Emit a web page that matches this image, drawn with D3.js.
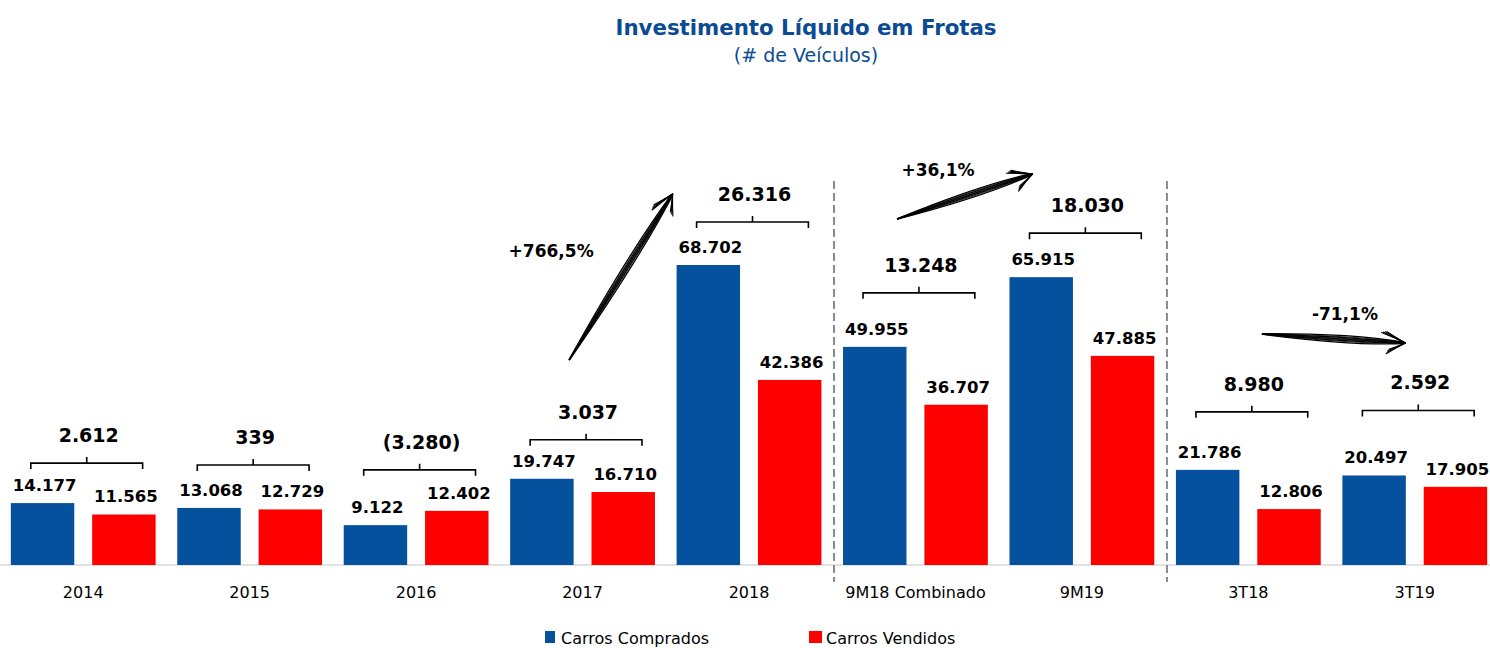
<!DOCTYPE html>
<html>
<head>
<meta charset="utf-8">
<script src="https://cdn.jsdelivr.net/npm/d3@7"></script>
<style>
  html, body { margin: 0; padding: 0; background: #fff; }
  svg { display: block; }
</style>
</head>
<body>
<svg id="chart"></svg>
<script>
// values
const categories = ["2014", "2015", "2016", "2017", "2018", "9M18 Combinado", "9M19", "3T18", "3T19"];
const comprados = [14177, 13068, 9122, 19747, 68702, 49955, 65915, 21786, 20497];
const vendidos = [11565, 12729, 12402, 16710, 42386, 36707, 47885, 12806, 17905];
const seriesNames = ["Carros Comprados", "Carros Vendidos"];
const comparisons = [["2017", "2018"], ["9M18 Combinado", "9M19"], ["3T18", "3T19"]];
const separators = ["9M18 Combinado", "3T18"];

const width = 1490, height = 648;
const blue = "#05519d", red = "#ff0000", titleBlue = "#0b4b93";
const baseline = 565;

// layout tweaks (not data): gap between tallest bar and bracket
const bracketLift = [40, 43, 41, 39, 43, 54, 44, 58, 65];
// arrow placement, offsets relative to the bands
const arrowLayout = [
    { sx: 59, sy: 360, ex: -4, ey: 194, lx: 41, ly: 257 },
    { sx: 54, sy: 219, ex: 23, ey: 174, lx: 95, ly: 176 },
    { sx: 86, sy: 334, ex: 63, ey: 343, lx: 169, ly: 320 }
];

const fmt = v => {
    const s = d3.format(",")(Math.abs(v)).replace(/,/g, ".");
    return v < 0 ? `(${s})` : s;
};
const fmtPct = v => (v > 0 ? "+" : "-") + d3.format(".1f")(Math.abs(v) * 100).replace(".", ",") + "%";

const svg = d3.select("#chart")
    .attr("width", width)
    .attr("height", height)
    .attr("viewBox", [0, 0, width, height]);

const x0 = d3.scaleBand()
    .domain(categories)
    .range([0, 1498])
    .paddingInner(0.13)
    .paddingOuter(0.065);

const x1 = d3.scaleBand()
    .domain(seriesNames)
    .range([0, x0.bandwidth()])
    .paddingInner(0.22);

const y = d3.scaleLinear()
    .domain([0, d3.max(comprados)])
    .range([baseline, 265]);

const rows = categories.map((c, i) => ({
    cat: c,
    i: i,
    vals: [comprados[i], vendidos[i]],
    net: comprados[i] - vendidos[i]
}));

// title
svg.append("text")
    .attr("x", 806).attr("y", 35)
    .attr("text-anchor", "middle")
    .attr("font-family", "DejaVu Sans")
    .attr("font-weight", "bold")
    .attr("font-size", 21.3)
    .attr("fill", titleBlue)
    .text("Investimento Líquido em Frotas");

svg.append("text")
    .attr("x", 806).attr("y", 62)
    .attr("text-anchor", "middle")
    .attr("font-family", "DejaVu Sans")
    .attr("font-size", 19)
    .attr("fill", titleBlue)
    .text("(# de Veículos)");

// axis line
svg.append("line")
    .attr("x1", 0).attr("x2", width)
    .attr("y1", baseline).attr("y2", baseline)
    .attr("stroke", "#d9d9d9")
    .attr("stroke-width", 1.5);

// dashed separators
svg.append("g")
    .selectAll("line")
    .data(separators)
    .join("line")
    .attr("x1", d => x0(d) - 9)
    .attr("x2", d => x0(d) - 9)
    .attr("y1", 181)
    .attr("y2", 582)
    .attr("stroke", "#8a8a8a")
    .attr("stroke-width", 2)
    .attr("stroke-dasharray", "8,4");

// bars
const group = svg.append("g")
    .selectAll("g")
    .data(rows)
    .join("g")
    .attr("transform", d => `translate(${x0(d.cat)},0)`);

group.selectAll("rect")
    .data(d => d.vals.map((v, k) => ({ key: seriesNames[k], v: v })))
    .join("rect")
    .attr("x", d => x1(d.key))
    .attr("y", d => y(d.v))
    .attr("width", x1.bandwidth())
    .attr("height", d => baseline - y(d.v))
    .attr("fill", (d, k) => k === 0 ? blue : red);

group.selectAll("text.val")
    .data(d => d.vals.map((v, k) => ({ key: seriesNames[k], v: v })))
    .join("text")
    .attr("class", "val")
    .attr("x", d => x1(d.key) + x1.bandwidth() / 2 + 2)
    .attr("y", d => y(d.v) - 12)
    .attr("text-anchor", "middle")
    .attr("font-family", "DejaVu Sans")
    .attr("font-weight", "bold")
    .attr("font-size", 16.5)
    .attr("fill", "#000")
    .text(d => fmt(d.v));

// brackets with net values
const bracketY = d => y(d3.max(d.vals)) - bracketLift[d.i];
const bx0 = 20, bx1 = x0.bandwidth() - 13;
const bmid = (bx0 + bx1) / 2;

group.append("path")
    .attr("d", d => {
        const by = bracketY(d);
        return `M${bx0},${by + 6}L${bx0},${by}L${bx1},${by}L${bx1},${by + 6}M${bmid},${by}L${bmid},${by - 6}`;
    })
    .attr("fill", "none")
    .attr("stroke", "#000")
    .attr("stroke-width", 1.6);

group.append("text")
    .attr("x", bmid + 2)
    .attr("y", d => bracketY(d) - 21)
    .attr("text-anchor", "middle")
    .attr("font-family", "DejaVu Sans")
    .attr("font-weight", "bold")
    .attr("font-size", 19)
    .attr("fill", "#000")
    .text(d => fmt(d.net));

// sketchy growth arrows
function sketchArrow(g, xa, ya, xb, yb) {
    const dx = xb - xa, dy = yb - ya, len = Math.hypot(dx, dy);
    const ux = dx / len, uy = dy / len, nx = -uy, ny = ux;
    const strands = [-2.6, -1.8, -1.1, -0.5, 0, 0.5, 1.1, 1.8, 2.6];
    strands.forEach((o, k) => {
        const sx = xa + nx * o * 0.1, sy = ya + ny * o * 0.1;
        const ex = xb - ux * 2 + nx * o * 0.3, ey = yb - uy * 2 + ny * o * 0.3;
        const cx = xa + dx * 0.62 + nx * o * 2.4, cy = ya + dy * 0.62 + ny * o * 2.4;
        g.append("path")
            .attr("d", `M${sx},${sy}Q${cx},${cy} ${ex},${ey}`)
            .attr("fill", "none")
            .attr("stroke", "#000")
            .attr("stroke-width", k % 2 ? 0.8 : 1.2);
    });
    const ang = Math.atan2(-dy, -dx);
    [[-0.5, 22], [0.42, 26]].forEach(([a, bl0]) => {
        [-0.07, -0.025, 0.025, 0.07].forEach((j, k) => {
            const bl = bl0 - k * 1.5;
            const mx = xb + Math.cos(ang + a + j) * bl * 0.5 + nx * j * 6;
            const my = yb + Math.sin(ang + a + j) * bl * 0.5 + ny * j * 6;
            g.append("path")
                .attr("d", `M${xb},${yb}Q${mx},${my} ${xb + Math.cos(ang + a + j) * bl},${yb + Math.sin(ang + a + j) * bl}`)
                .attr("fill", "none")
                .attr("stroke", "#000")
                .attr("stroke-width", 1.1)
                .attr("stroke-linecap", "round");
        });
    });
}

const arrows = svg.append("g");
comparisons.forEach(([a, b], k) => {
    const L = arrowLayout[k];
    const ia = categories.indexOf(a), ib = categories.indexOf(b);
    sketchArrow(arrows, x0(a) + L.sx, L.sy, x0(b) + L.ex, L.ey);
    const pct = rows[ib].net / rows[ia].net - 1;
    arrows.append("text")
        .attr("x", x0(a) + L.lx)
        .attr("y", L.ly)
        .attr("text-anchor", "middle")
        .attr("font-family", "DejaVu Sans")
        .attr("font-weight", "bold")
        .attr("font-size", 17)
        .attr("fill", "#000")
        .text(fmtPct(pct));
});

// category labels
svg.append("g")
    .selectAll("text")
    .data(categories)
    .join("text")
    .attr("x", d => x0(d) + x0.bandwidth() / 2)
    .attr("y", 598)
    .attr("text-anchor", "middle")
    .attr("font-family", "DejaVu Sans")
    .attr("font-size", 16)
    .attr("fill", "#000")
    .text(d => d);

// legend
const legend = svg.append("g")
    .selectAll("g")
    .data(seriesNames)
    .join("g")
    .attr("transform", (d, i) => `translate(${[545, 809][i]},0)`);

legend.append("rect")
    .attr("x", 0).attr("y", 631)
    .attr("width", (d, i) => i ? 13 : 10)
    .attr("height", 12)
    .attr("fill", (d, i) => i ? red : blue);

legend.append("text")
    .attr("x", (d, i) => i ? 17 : 16)
    .attr("y", 643.5)
    .attr("font-family", "DejaVu Sans")
    .attr("font-size", 16)
    .attr("fill", "#000")
    .text(d => d);
</script>
</body>
</html>
